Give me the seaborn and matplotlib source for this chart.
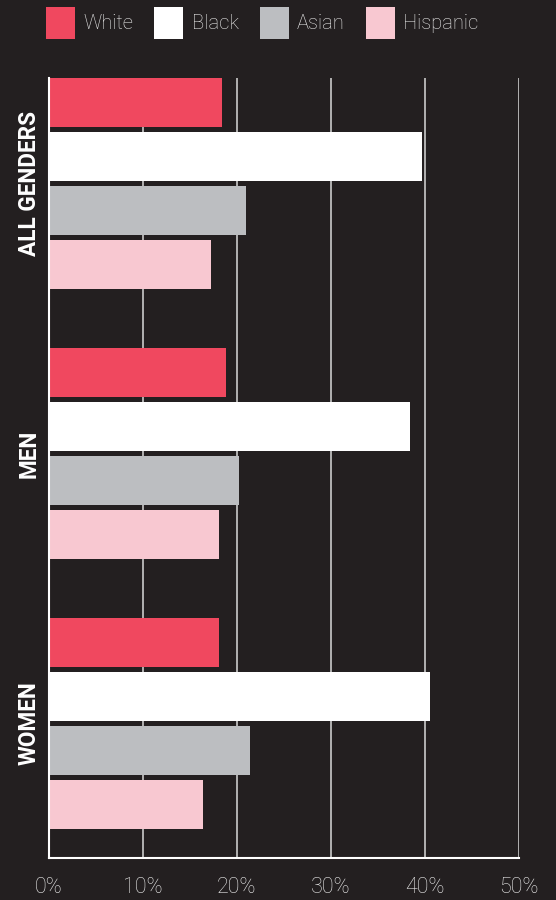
import matplotlib
matplotlib.use("Agg")
import matplotlib.pyplot as plt
import seaborn as sns
import pandas as pd

genders = ["ALL GENDERS", "MEN", "WOMEN"]
races = ["White", "Black", "Asian", "Hispanic"]
white = [18.4, 18.8, 18.1]
black = [39.7, 38.4, 40.5]
asian = [21.0, 20.2, 21.4]
hispanic = [17.2, 18.1, 16.4]
xticks = [0, 10, 20, 30, 40, 50]
xtick_labels = ["0%", "10%", "20%", "30%", "40%", "50%"]

colors = ["#f0485f", "#ffffff", "#bcbec1", "#f8c8d1"]
bg = "#231f20"

rows = []
for series, race in zip([white, black, asian, hispanic], races):
    for g, v in zip(genders, series):
        rows.append({"gender": g, "race": race, "value": v})
df = pd.DataFrame(rows)

sns.set_style("dark")
plt.rcParams["font.family"] = ["Roboto", "DejaVu Sans"]

fig = plt.figure(figsize=(5.56, 9.0), dpi=100, facecolor=bg)
ax = fig.add_axes([49/556, 1 - 858/900, 470/556, 780/900])
ax.set_facecolor(bg)

sns.barplot(data=df, x="value", y="gender", hue="race", order=genders,
            hue_order=races, palette=colors, orient="h", width=0.8, gap=0.09,
            saturation=1, ax=ax, zorder=3, edgecolor="none", linewidth=0)

ax.set_xlim(0, 50)
ax.set_ylim(2.498, -0.391)
ax.set_xticks(xticks)
ax.set_xticklabels(xtick_labels, fontsize=15.5, color="#ececec", fontweight="light")
ax.tick_params(axis="x", length=0, pad=14)
ax.tick_params(axis="y", length=0, pad=6)
for lbl in ax.get_yticklabels():
    lbl.set_rotation(90)
    lbl.set_va("center")
    lbl.set_fontsize(16.3)
    lbl.set_fontweight("bold")
    lbl.set_color("white")
ax.set_xlabel("")
ax.set_ylabel("")
ax.grid(axis="x", color="#bdbdbd", linewidth=1.3, zorder=1)
ax.grid(axis="y", visible=False)
for side in ["top", "right"]:
    ax.spines[side].set_visible(False)
for side in ["left", "bottom"]:
    ax.spines[side].set_visible(True)
    ax.spines[side].set_color("white")
    ax.spines[side].set_linewidth(1.5)
    ax.spines[side].set_zorder(4)

handles, labels = ax.get_legend_handles_labels()
ax.get_legend().remove()
leg = fig.legend(handles, labels, loc="upper left", bbox_to_anchor=(46/556, 1 - 7/900),
                 ncol=4, frameon=False, fontsize=14.5, handlelength=1.45,
                 handleheight=2.05, handletextpad=0.4, columnspacing=1.05,
                 borderaxespad=0, borderpad=0)
for t in leg.get_texts():
    t.set_color("#ececec")
    t.set_fontweight("light")

fig.savefig("out.png", dpi=100, facecolor=bg)
